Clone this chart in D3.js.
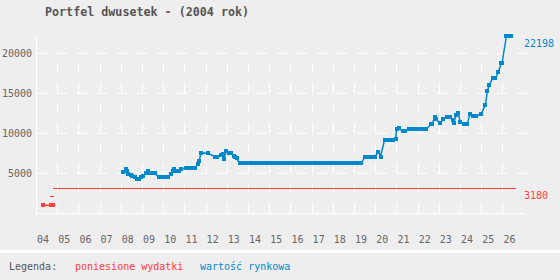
<!DOCTYPE html>
<html lang="pl">

<head>
  <meta charset="UTF-8">
  <title>Portfel dwusetek</title>
  <script src="https://d3js.org/d3.v7.min.js"></script>
  <style>
    body {
      margin: 0;
      padding: 0;
      background: #eeeeee;
    }

    svg text {
      font-family: "DejaVu Sans Mono", monospace;
    }
  </style>
</head>

<body>
  <div id="chart"></div>

  <script>
    // Tick labels (weeks of 2004)
    const weekTicks = [4, 5, 6, 7, 8, 9, 10, 11, 12, 13, 14, 15, 16, 17, 18, 19, 20, 21, 22, 23, 24, 25, 26];
    const valueTicks = [5000, 10000, 15000, 20000];

    // Market value ("wartość rynkowa")
    const blueWeeks = [8.12, 8.23, 8.31, 8.36, 8.46, 8.55, 8.65, 8.75, 8.86, 8.95, 9.06, 9.17, 9.27, 9.34, 9.45, 9.59,
      9.78, 10.23, 10.37, 10.45, 10.52, 10.63, 10.75, 10.86, 11.08, 11.50, 11.64, 11.70, 11.78, 12.11, 12.44, 12.56,
      12.73, 12.81, 12.87, 12.96, 13.08, 13.20, 13.32, 13.39, 13.46, 13.60, 19.33, 19.52, 19.98, 20.15, 20.25, 20.44,
      20.84, 20.96, 21.01, 21.11, 21.30, 21.42, 21.61, 22.41, 22.63, 22.68, 22.80, 22.87, 23.04, 23.07, 23.21, 23.39,
      23.51, 23.66, 23.72, 23.80, 23.92, 24.00, 24.18, 24.34, 24.47, 24.60, 24.77, 24.99, 25.20, 25.29, 25.38, 25.54,
      25.67, 25.81, 25.95, 25.98, 26.19, 26.42];
    const blueValues = [5200, 5500, 5300, 4950, 4750, 4650, 4480, 4350, 4250, 4500, 4650, 5000, 5350, 5050, 5000, 5000,
      4580, 4580, 4950, 5330, 5600, 5330, 5330, 5500, 5700, 5700, 6150, 6550, 7550, 7500, 7080, 7080,
      7290, 7400, 6750, 7750, 7500, 7500, 7160, 7080, 6870, 6250, 6250, 7080, 7080, 7700, 7100, 9160,
      9160, 9300, 10500, 10650, 10250, 10250, 10500, 10500, 11120, 11120, 12000, 11800, 11250, 11250, 11750, 12000,
      12000, 11660, 11330, 12250, 12600, 11450, 11150, 11150, 12450, 12200, 12200, 12370, 13600, 15290, 16040, 16870,
      16870, 17700, 18750, 18750, 22198, 22198];

    // Expenses incurred ("poniesione wydatki")
    const redWeeks = [4.35, 4.71, 4.80];
    const redValues = [1000, 1000, 1000];
    const redLevelFrom = [4.66, 4.82];
    const redLevelTo = [4.85, 26.63];
    const redLevelValues = [2200, 3180];

    const blue = "#0088cc";
    const red = "#ff3b3b";
    const grey = "#666666";

    const width = 560, height = 280;

    const svg = d3.select("#chart").append("svg")
      .attr("width", width)
      .attr("height", height);

    const x = d3.scaleLinear().domain([4, 27.05]).range([36, 524.7]);
    const y = d3.scaleLinear().domain([0, 25000]).range([213.3, 13.3]);

    // title
    svg.append("text")
      .attr("x", 45)
      .attr("y", 16)
      .attr("font-size", "11.7px")
      .attr("font-weight", "bold")
      .attr("fill", "#555")
      .text("Portfel dwusetek - (2004 rok)");

    // horizontal grid
    svg.selectAll(".hgrid")
      .data(valueTicks)
      .enter().append("line")
      .attr("x1", 37).attr("x2", 527)
      .attr("y1", d => Math.round(y(d)) + 0.5)
      .attr("y2", d => Math.round(y(d)) + 0.5)
      .attr("stroke", "#fff")
      .attr("stroke-dasharray", "10,10");

    // vertical grid (first tick sits on the axis)
    svg.selectAll(".vgrid")
      .data(weekTicks.slice(1))
      .enter().append("line")
      .attr("x1", d => Math.round(x(d)) + 0.5)
      .attr("x2", d => Math.round(x(d)) + 0.5)
      .attr("y1", 63).attr("y2", 217)
      .attr("stroke", "#fff")
      .attr("stroke-dasharray", "10,10");

    // axes lines
    svg.append("line")
      .attr("x1", 36.5).attr("x2", 36.5)
      .attr("y1", 36).attr("y2", 217)
      .attr("stroke", "#fff");
    svg.append("line")
      .attr("x1", 36).attr("x2", 525)
      .attr("y1", Math.round(y(0)) + 0.5).attr("y2", Math.round(y(0)) + 0.5)
      .attr("stroke", "#fff");

    // y labels
    svg.selectAll(".ylabel")
      .data(valueTicks)
      .enter().append("text")
      .attr("x", 32)
      .attr("y", d => y(d))
      .attr("dy", "0.35em")
      .attr("text-anchor", "end")
      .attr("font-size", "10px")
      .attr("fill", grey)
      .text(d => d);

    // x labels
    svg.selectAll(".xlabel")
      .data(weekTicks)
      .enter().append("text")
      .attr("x", d => x(d) + 1)
      .attr("y", 243)
      .attr("font-size", "10px")
      .attr("fill", grey)
      .text(d => d3.format("02d")(d));

    // red series: level lines
    svg.selectAll(".redlevel")
      .data(redLevelValues)
      .enter().append("line")
      .attr("x1", (d, i) => x(redLevelFrom[i]))
      .attr("x2", (d, i) => x(redLevelTo[i]))
      .attr("y1", d => Math.round(y(d)) + 0.5)
      .attr("y2", d => Math.round(y(d)) + 0.5)
      .attr("stroke", red)
      .attr("shape-rendering", "crispEdges");

    // draws a series as thin line + square markers, flat runs can get thick
    function drawSeries(weeks, values, color, thickRuns) {
      const pts = weeks.map((w, i) => [x(w), y(values[i])]);
      svg.append("path")
        .attr("d", d3.line()(pts))
        .attr("fill", "none")
        .attr("stroke", color)
        .attr("stroke-width", 1.5);

      if (thickRuns) {
        const runs = d3.pairs(pts).filter(p => p[0][1] === p[1][1]);
        svg.selectAll(null)
          .data(runs)
          .enter().append("rect")
          .attr("x", d => d[0][0] - 2)
          .attr("y", d => d[0][1] - 2)
          .attr("width", d => d[1][0] - d[0][0] + 4)
          .attr("height", 4)
          .attr("fill", color)
          .attr("shape-rendering", "crispEdges");
      }

      svg.selectAll(null)
        .data(pts)
        .enter().append("rect")
        .attr("x", d => d[0] - 2)
        .attr("y", d => d[1] - 2)
        .attr("width", 4)
        .attr("height", 4)
        .attr("fill", color)
        .attr("shape-rendering", "crispEdges");
    }

    drawSeries(redWeeks, redValues, red, false);
    drawSeries(blueWeeks, blueValues, blue, true);

    // end value labels
    svg.append("text")
      .attr("x", 524)
      .attr("y", y(blueValues[blueValues.length - 1]) + 11)
      .attr("font-size", "10px")
      .attr("fill", blue)
      .text(blueValues[blueValues.length - 1]);
    svg.append("text")
      .attr("x", 524)
      .attr("y", y(redLevelValues[1]) + 11)
      .attr("font-size", "10px")
      .attr("fill", red)
      .text(redLevelValues[1]);

    // legend
    svg.append("rect")
      .attr("x", 0).attr("y", 250)
      .attr("width", width).attr("height", 3)
      .attr("fill", "#fff");

    const legend = svg.append("text")
      .attr("x", 9)
      .attr("y", 270)
      .attr("font-size", "10px")
      .attr("xml:space", "preserve");
    legend.append("tspan").attr("fill", "#555").text("Legenda:");
    legend.append("tspan").attr("x", 75).attr("fill", red).text("poniesione wydatki");
    legend.append("tspan").attr("x", 200).attr("fill", blue).text("wartość rynkowa");
  </script>
</body>

</html>
